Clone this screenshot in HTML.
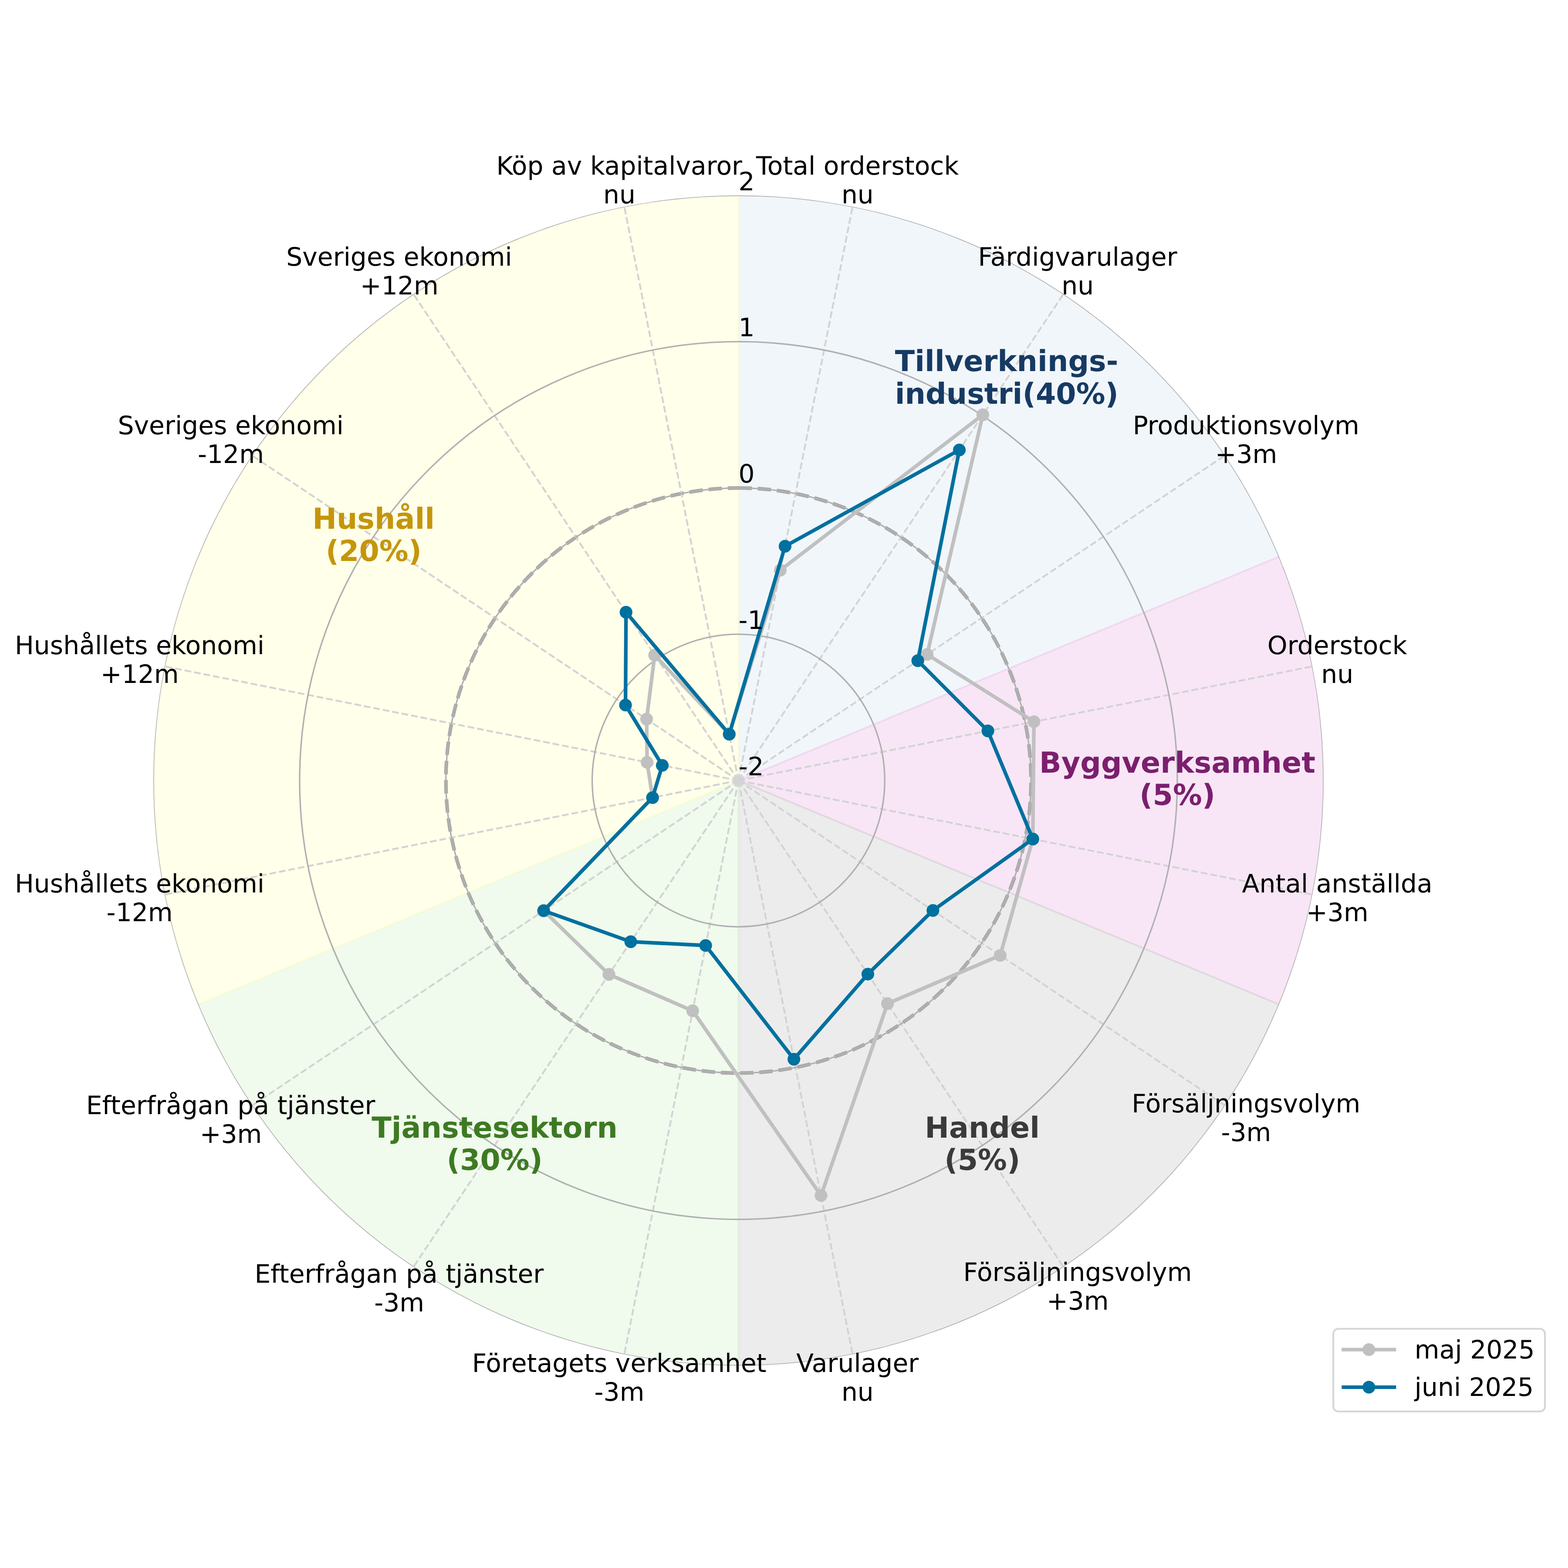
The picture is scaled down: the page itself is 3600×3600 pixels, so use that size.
<!DOCTYPE html>
<html lang="sv"><head><meta charset="utf-8"><title>Konjunkturbarometer – radardiagram</title>
<style>html,body{margin:0;padding:0;background:#fff}body{width:3600px;height:3600px;overflow:hidden}svg{display:block}text{font-family:"DejaVu Sans","Liberation Sans",sans-serif;font-kerning:normal;text-rendering:geometricPrecision}</style></head><body>
<svg xmlns="http://www.w3.org/2000/svg" width="3600" height="3600" viewBox="0 0 3600 3600">
<rect width="3600" height="3600" fill="#fff"/>
<defs><clipPath id="ax"><circle cx="1695.45" cy="1792" r="1343.4"/></clipPath></defs>
<g clip-path="url(#ax)">
<path d="M1695.45 1792L1695.45 442.6A1349.4 1349.4 0 0 1 2942.13 1275.61Z" fill="#508fc1" fill-opacity="0.08"/>
<path d="M1695.45 1792L2942.13 1275.61A1349.4 1349.4 0 0 1 2942.13 2308.39Z" fill="#e49fdc" fill-opacity="0.26"/>
<path d="M1695.45 1792L2942.13 2308.39A1349.4 1349.4 0 0 1 1695.45 3141.4Z" fill="#808080" fill-opacity="0.15"/>
<path d="M1695.45 1792L1695.45 3141.4A1349.4 1349.4 0 0 1 448.77 2308.39Z" fill="#69cd4b" fill-opacity="0.1"/>
<path d="M1695.45 1792L448.77 2308.39A1349.4 1349.4 0 0 1 1695.45 442.6Z" fill="#ffff00" fill-opacity="0.082"/>
<path d="M1695.45 1792L2942.13 1275.61" fill="none" stroke="#e49fdc" stroke-opacity="0.26" stroke-width="4.17"/>
<path d="M1695.45 1792L2942.13 2308.39" fill="none" stroke="#808080" stroke-opacity="0.15" stroke-width="4.17"/>
<path d="M1695.45 1792L1695.45 3141.4" fill="none" stroke="#69cd4b" stroke-opacity="0.1" stroke-width="4.17"/>
<path d="M1695.45 1792L448.77 2308.39" fill="none" stroke="#ffff00" stroke-opacity="0.082" stroke-width="4.17"/>
<path d="M1695.45 1792L1695.45 442.6" fill="none" stroke="#ffff00" stroke-opacity="0.082" stroke-width="4.17"/>
<circle cx="1695.45" cy="1792" r="671.7" fill="none" stroke="#a9a9a9" stroke-width="8.33" stroke-dasharray="30.83 13.33" transform="rotate(-90 1695.45 1792)"/>
<g stroke="#d3d3d3" stroke-width="4.17" stroke-dasharray="15.42 6.67" fill="none">
<path d="M1695.45 1792L1957.53 474.41"/>
<path d="M1695.45 1792L2441.8 675"/>
<path d="M1695.45 1792L2812.45 1045.65"/>
<path d="M1695.45 1792L3013.04 1529.92"/>
<path d="M1695.45 1792L3013.04 2054.08"/>
<path d="M1695.45 1792L2812.45 2538.35"/>
<path d="M1695.45 1792L2441.8 2909"/>
<path d="M1695.45 1792L1957.53 3109.59"/>
<path d="M1695.45 1792L1433.37 3109.59"/>
<path d="M1695.45 1792L949.1 2909"/>
<path d="M1695.45 1792L578.45 2538.35"/>
<path d="M1695.45 1792L377.86 2054.08"/>
<path d="M1695.45 1792L377.86 1529.92"/>
<path d="M1695.45 1792L578.45 1045.65"/>
<path d="M1695.45 1792L949.1 675"/>
<path d="M1695.45 1792L1433.37 474.41"/>
</g>
<g stroke="#b0b0b0" stroke-width="3.33" fill="none">
<circle cx="1695.45" cy="1792" r="335.85"/>
<circle cx="1695.45" cy="1792" r="671.7"/>
<circle cx="1695.45" cy="1792" r="1007.55"/>
<circle cx="1695.45" cy="1792" r="1343.4"/>
</g>
<g fill="#c0c0c0" stroke="#c0c0c0">
<path d="M1791.5 1309.14L2256.45 952.4L2128.68 1502.52L2373.87 1657.05L2371.24 1926.42L2296.38 2193.53L2037.69 2304.2L1884.97 2744.8L1590.29 2320.7L1398.03 2237.12L1248.17 2090.86L1498.21 1831.23L1485.72 1750.28L1484.57 1651.09L1503.12 1504.15L1674.29 1685.64Z" fill="none" stroke-width="8.33" stroke-linejoin="round"/>
<circle cx="1791.5" cy="1309.14" r="14.58" stroke="none"/>
<circle cx="2256.45" cy="952.4" r="14.58" stroke="none"/>
<circle cx="2128.68" cy="1502.52" r="14.58" stroke="none"/>
<circle cx="2373.87" cy="1657.05" r="14.58" stroke="none"/>
<circle cx="2371.24" cy="1926.42" r="14.58" stroke="none"/>
<circle cx="2296.38" cy="2193.53" r="14.58" stroke="none"/>
<circle cx="2037.69" cy="2304.2" r="14.58" stroke="none"/>
<circle cx="1884.97" cy="2744.8" r="14.58" stroke="none"/>
<circle cx="1590.29" cy="2320.7" r="14.58" stroke="none"/>
<circle cx="1398.03" cy="2237.12" r="14.58" stroke="none"/>
<circle cx="1248.17" cy="2090.86" r="14.58" stroke="none"/>
<circle cx="1498.21" cy="1831.23" r="14.58" stroke="none"/>
<circle cx="1485.72" cy="1750.28" r="14.58" stroke="none"/>
<circle cx="1484.57" cy="1651.09" r="14.58" stroke="none"/>
<circle cx="1503.12" cy="1504.15" r="14.58" stroke="none"/>
<circle cx="1674.29" cy="1685.64" r="14.58" stroke="none"/>
</g>
<g fill="#00709f" stroke="#00709f">
<path d="M1802.44 1254.13L2202.55 1033.07L2107.19 1516.88L2268.06 1678.1L2371.24 1926.42L2141.92 2090.32L1992.48 2236.54L1822.72 2431.84L1620.12 2170.72L1448.17 2162.08L1248.17 2090.86L1498.21 1831.23L1520.56 1757.21L1436.12 1618.72L1437.31 1405.66L1674.29 1685.64Z" fill="none" stroke-width="8.33" stroke-linejoin="round"/>
<circle cx="1802.44" cy="1254.13" r="14.58" stroke="none"/>
<circle cx="2202.55" cy="1033.07" r="14.58" stroke="none"/>
<circle cx="2107.19" cy="1516.88" r="14.58" stroke="none"/>
<circle cx="2268.06" cy="1678.1" r="14.58" stroke="none"/>
<circle cx="2371.24" cy="1926.42" r="14.58" stroke="none"/>
<circle cx="2141.92" cy="2090.32" r="14.58" stroke="none"/>
<circle cx="1992.48" cy="2236.54" r="14.58" stroke="none"/>
<circle cx="1822.72" cy="2431.84" r="14.58" stroke="none"/>
<circle cx="1620.12" cy="2170.72" r="14.58" stroke="none"/>
<circle cx="1448.17" cy="2162.08" r="14.58" stroke="none"/>
<circle cx="1248.17" cy="2090.86" r="14.58" stroke="none"/>
<circle cx="1498.21" cy="1831.23" r="14.58" stroke="none"/>
<circle cx="1520.56" cy="1757.21" r="14.58" stroke="none"/>
<circle cx="1436.12" cy="1618.72" r="14.58" stroke="none"/>
<circle cx="1437.31" cy="1405.66" r="14.58" stroke="none"/>
<circle cx="1674.29" cy="1685.64" r="14.58" stroke="none"/>
</g>
</g>
<text x="1736.1" y="400.7" font-size="58.33" fill="#000">Total orderstock</text>
<text x="1931.91" y="466.7" font-size="58.33" fill="#000">nu</text>
<text x="2245.46" y="610" font-size="58.33" fill="#000">Färdigvarulager</text>
<text x="2437.21" y="676" font-size="58.33" fill="#000">nu</text>
<text x="2600.7" y="996.74" font-size="58.33" fill="#000">Produktionsvolym</text>
<text x="2789.64" y="1062.74" font-size="58.33" fill="#000">+3m</text>
<text x="2909.87" y="1502.04" font-size="58.33" fill="#000">Orderstock</text>
<text x="3033.25" y="1568.04" font-size="58.33" fill="#000">nu</text>
<text x="2851.62" y="2048.96" font-size="58.33" fill="#000">Antal anställda</text>
<text x="2998.94" y="2114.96" font-size="58.33" fill="#000">+3m</text>
<text x="2598.32" y="2554.26" font-size="58.33" fill="#000">Försäljningsvolym</text>
<text x="2803.45" y="2620.26" font-size="58.33" fill="#000">-3m</text>
<text x="2211.59" y="2941" font-size="58.33" fill="#000">Försäljningsvolym</text>
<text x="2402.9" y="3007" font-size="58.33" fill="#000">+3m</text>
<text x="1828.35" y="3150.3" font-size="58.33" fill="#000">Varulager</text>
<text x="1931.91" y="3216.3" font-size="58.33" fill="#000">nu</text>
<text x="1083.8" y="3150.3" font-size="58.33" fill="#000">Företagets verksamhet</text>
<text x="1364.49" y="3216.3" font-size="58.33" fill="#000">-3m</text>
<text x="584.44" y="2944.5" font-size="58.33" fill="#000">Efterfrågan på tjänster</text>
<text x="859.19" y="3010.5" font-size="58.33" fill="#000">-3m</text>
<text x="197.7" y="2557.76" font-size="58.33" fill="#000">Efterfrågan på tjänster</text>
<text x="458.64" y="2623.76" font-size="58.33" fill="#000">+3m</text>
<text x="33.96" y="2048.96" font-size="58.33" fill="#000">Hushållets ekonomi</text>
<text x="244.59" y="2114.96" font-size="58.33" fill="#000">-12m</text>
<text x="33.96" y="1502.04" font-size="58.33" fill="#000">Hushållets ekonomi</text>
<text x="230.78" y="1568.04" font-size="58.33" fill="#000">+12m</text>
<text x="270.51" y="996.74" font-size="58.33" fill="#000">Sveriges ekonomi</text>
<text x="453.89" y="1062.74" font-size="58.33" fill="#000">-12m</text>
<text x="657.25" y="610" font-size="58.33" fill="#000">Sveriges ekonomi</text>
<text x="826.81" y="676" font-size="58.33" fill="#000">+12m</text>
<text x="1139.49" y="400.7" font-size="58.33" fill="#000">Köp av kapitalvaror</text>
<text x="1384.99" y="466.7" font-size="58.33" fill="#000">nu</text>
<text x="1695.45" y="1780" font-size="58.33" fill="#000">-2</text>
<text x="1695.45" y="1444.15" font-size="58.33" fill="#000">-1</text>
<text x="1695.45" y="1108.3" font-size="58.33" fill="#000">0</text>
<text x="1695.45" y="772.45" font-size="58.33" fill="#000">1</text>
<text x="1695.45" y="436.6" font-size="58.33" fill="#000">2</text>
<text x="2054.75" y="852.33" font-size="66.67" font-weight="bold" fill="#163a63">Tillverknings-</text>
<text x="2054.69" y="926.63" font-size="66.67" font-weight="bold" fill="#163a63">industri(40%)</text>
<text x="2385.94" y="1773.6" font-size="66.67" font-weight="bold" fill="#7b1f6e">Byggverksamhet</text>
<text x="2616.06" y="1848.4" font-size="66.67" font-weight="bold" fill="#7b1f6e">(5%)</text>
<text x="2123.15" y="2611.85" font-size="66.67" font-weight="bold" fill="#3a3a3a">Handel</text>
<text x="2168.28" y="2685.65" font-size="66.67" font-weight="bold" fill="#3a3a3a">(5%)</text>
<text x="853.25" y="2611.59" font-size="66.67" font-weight="bold" fill="#3d7a22">Tjänstesektorn</text>
<text x="1025.62" y="2686.39" font-size="66.67" font-weight="bold" fill="#3d7a22">(30%)</text>
<text x="717.14" y="1214.34" font-size="66.67" font-weight="bold" fill="#c4960a">Hushåll</text>
<text x="747.64" y="1288.14" font-size="66.67" font-weight="bold" fill="#c4960a">(20%)</text>
<rect x="3061.17" y="3050.74" width="485.88" height="189.83" rx="11.67" ry="11.67" fill="#fff" fill-opacity="0.8" stroke="#cccccc" stroke-opacity="0.8" stroke-width="4.17"/>
<path d="M3084.5 3098.66L3201.17 3098.66" stroke="#c0c0c0" stroke-width="8.33" stroke-linecap="square" fill="none"/>
<circle cx="3142.84" cy="3098.66" r="14.58" fill="#c0c0c0"/>
<path d="M3084.5 3184.82L3201.17 3184.82" stroke="#00709f" stroke-width="8.33" stroke-linecap="square" fill="none"/>
<circle cx="3142.84" cy="3184.82" r="14.58" fill="#00709f"/>
<text x="3247.84" y="3119.07" font-size="58.33" fill="#000">maj 2025</text>
<text x="3247.84" y="3205.24" font-size="58.33" fill="#000">juni 2025</text>
</svg></body></html>
